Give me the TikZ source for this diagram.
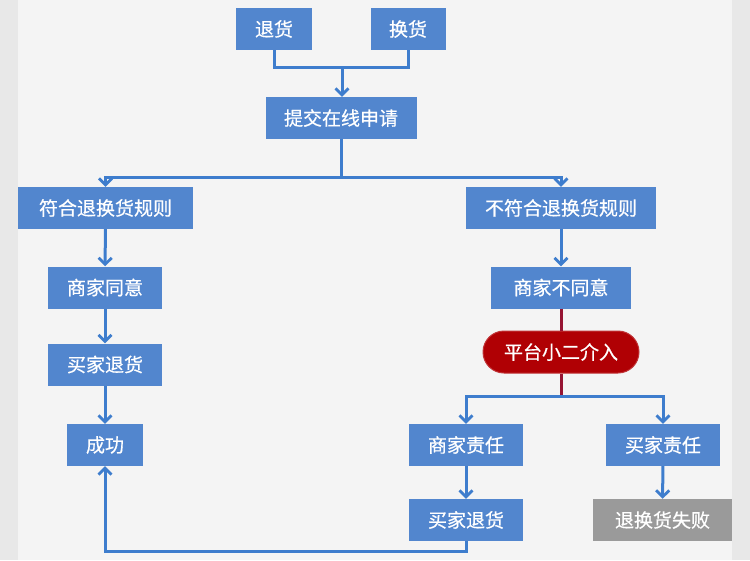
\documentclass[tikz,border=0pt]{standalone}
\usepackage{fontspec}
\newfontfamily\cjk[FakeBold=0.6]{Noto Sans CJK SC}
\usepackage{tikz}
\usetikzlibrary{arrows.meta,calc,positioning}
\definecolor{boxblue}{RGB}{82,134,206}
\definecolor{lineblue}{RGB}{62,125,205}
\definecolor{pfred}{RGB}{176,0,4}
\definecolor{linered}{RGB}{150,20,50}
\definecolor{failgray}{RGB}{154,154,154}
\definecolor{bgouter}{RGB}{232,232,232}
\definecolor{bginner}{RGB}{244,244,244}
\tikzset{>={Straight Barb[length=6.5pt,width=13pt,line width=2.8pt]},
	block/.style={% blue step boxes
		fill=boxblue,
		rectangle,
		minimum height=42pt,
		inner sep=0pt,
		text=white,
		font=\cjk\fontsize{19}{21}\selectfont,
		align=center
	},
	platform/.style={
		block,
		fill=pfred,
		draw=pfred!80!white,
		line width=1pt,
		rounded corners=21pt
	},
	failbox/.style={
		block,
		fill=failgray
	},
	conn/.style={
		draw=lineblue,
		line width=3pt
	}
}
\begin{document}
\begin{tikzpicture}[x=1pt,y=-1pt]
	% background
	\fill [bgouter] (0,0) rectangle (750,560);
	\fill [bginner] (18,0) rectangle (732,560);
	\useasboundingbox (0,0) rectangle (750,560);
	\node [block, minimum width=76pt] (ret) at (274,29) {退货};
	\node [block, minimum width=75pt] (exch) at (408,29) {换货};
	\node [block, minimum width=151pt] (apply) at (341,118) {提交在线申请};
	\node [block, minimum width=175pt] (rok) at (105.5,208) {符合退换货规则};
	\node [block, minimum width=190pt] (rno) at (561,208) {不符合退换货规则};
	\node [block, minimum width=114pt] (agree) at (105,287.5) {商家同意};
	\node [block, minimum width=114pt] (back) at (105,364.5) {买家退货};
	\node [block, minimum width=76pt] (done) at (105,445) {成功};
	\node [block, minimum width=140pt] (refuse) at (561,287.5) {商家不同意};
	\node [platform, minimum width=156pt] (xiaoer) at (561,352) {平台小二介入};
	\node [block, minimum width=114pt] (shop) at (466,445) {商家责任};
	\node [block, minimum width=114pt] (buyer) at (663,445) {买家责任};
	\node [block, minimum width=114pt] (backII) at (466,520) {买家退货};
	\node [failbox, minimum width=139pt] (fail) at (662.5,520) {退换货失败};
	\coordinate (join) at (342,67);
	\draw [conn] (ret.south) |- (join) -| (exch.south);
	\draw [conn, ->] (join) -- (join |- apply.north);
	\draw [conn, ->] (apply.south) -- ++(0,38) -| (rok.north);
	\draw [conn, ->] (apply.south) -- ++(0,38) -| (rno.north);
	\draw [conn, ->] (rok) edge (agree);
	\draw [conn, ->] (agree) edge (back);
	\draw [conn, ->] (back) edge (done);
	\draw [conn, ->] (rno) edge (refuse);
	\draw [conn, draw=linered] (refuse) -- (xiaoer);
	\draw [conn, draw=linered] (xiaoer.south) -- ++(0,23);
	\draw [conn, ->] (xiaoer.south) ++(0,23) -| (shop.north);
	\draw [conn, ->] (xiaoer.south) ++(0,23) -| (buyer.north);
	\draw [conn, ->] (shop) edge (backII);
	\draw [conn, ->] (buyer) edge (fail);
	\draw [conn, ->] (backII.south) -- ++(0,10) -| (done.south);
\end{tikzpicture}
\end{document}
